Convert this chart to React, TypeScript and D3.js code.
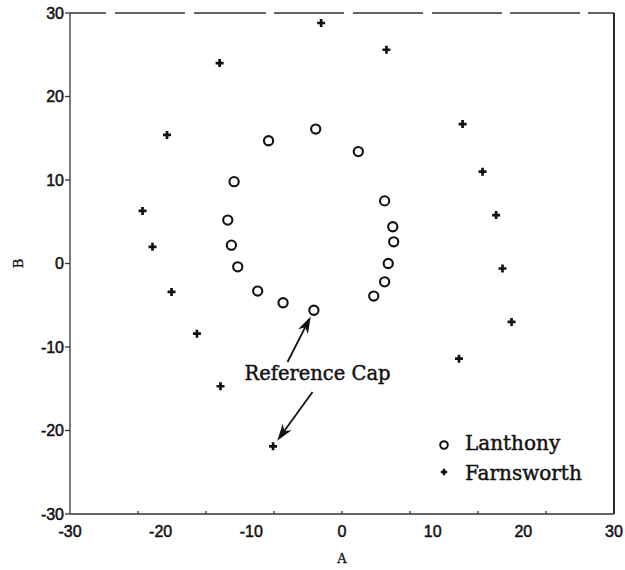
import React from "react";
import * as d3 from "d3";

// Cap chromaticities in the A/B plane (Lanthony D-15 desaturated vs Farnsworth D-15)
const lanthonyA = [-3.1, -9.3, -11.5, -12.2, -12.6, -11.9, -8.1, -2.9, 1.8, 4.7, 5.6, 5.7, 5.1, 4.7, 3.5];
const lanthonyB = [-5.6, -3.3, -0.4, 2.2, 5.2, 9.8, 14.7, 16.1, 13.4, 7.5, 4.4, 2.6, 0.0, -2.2, -3.9];
const lanthonyExtraA = [-6.5];
const lanthonyExtraB = [-4.7];

const farnsworthA = [-7.6, -13.4, -16.0, -18.8, -20.9, -22.0, -19.3, -13.5, -2.3, 4.9, 13.3, 15.5, 17.0, 17.7, 18.7, 12.9];
const farnsworthB = [-21.9, -14.7, -8.4, -3.4, 2.0, 6.3, 15.4, 24.0, 28.8, 25.6, 16.7, 11.0, 5.8, -0.6, -7.0, -11.4];

const xTickLabels = [-30, -20, -10, 0, 10, 20, 30];
const yTickLabels = [-30, -20, -10, 0, 10, 20, 30];
const xMinorTicks = [-22.5, -15, -7.5, 0, 7.5, 15, 22.5];

const legendLabels = ["Lanthony", "Farnsworth"];
const annotationText = "Reference Cap";
const annotationAt = [-2.7, -13.95];

const width = 625;
const height = 570;
const left = 70;
const right = 614;
const top = 13;
const bottom = 514;

const x = d3.scaleLinear().domain([-30, 30]).range([left, right]);
const y = d3.scaleLinear().domain([-30, 30]).range([bottom, top]);

const serif = "'DejaVu Serif', 'Liberation Serif', serif";
const sans = "'Liberation Sans', Arial, sans-serif";

function Plus({ cx, cy, s, w }: { cx: number; cy: number; s: number; w: number }) {
  return (
    <path
      d={`M${cx - s},${cy}H${cx + s}M${cx},${cy - s}V${cy + s}`}
      stroke="#111"
      strokeWidth={w}
      fill="none"
    />
  );
}

function Arrow({ from, to }: { from: [number, number]; to: [number, number] }) {
  const dx = to[0] - from[0];
  const dy = to[1] - from[1];
  const len = Math.hypot(dx, dy);
  const ux = dx / len;
  const uy = dy / len;
  const headL = 17;
  const headW = 5.5;
  const bx = to[0] - ux * headL;
  const by = to[1] - uy * headL;
  const px = -uy;
  const py = ux;
  const head = `M${to[0]},${to[1]}L${bx + px * headW},${by + py * headW}L${bx + ux * 5},${by + uy * 5}L${bx - px * headW},${by - py * headW}Z`;
  return (
    <g>
      <line x1={from[0]} y1={from[1]} x2={bx + ux * 5} y2={by + uy * 5} stroke="#111" strokeWidth={1.8} />
      <path d={head} fill="#111" />
    </g>
  );
}

export default function App() {
  const lanthony = lanthonyA.map((a, i) => [a, lanthonyB[i]]).concat(lanthonyExtraA.map((a, i) => [a, lanthonyExtraB[i]]));
  const farnsworth = farnsworthA.map((a, i) => [a, farnsworthB[i]]);

  // Arrows go from the label to the reference cap of each set
  const lx = x(annotationAt[0]);
  const ly = y(annotationAt[1]);
  const refL: [number, number] = [x(lanthonyA[0]), y(lanthonyB[0])];
  const refF: [number, number] = [x(farnsworthA[0]), y(farnsworthB[0])];
  const tailUp: [number, number] = [lx - 30, ly - 18];
  const tailDown: [number, number] = [lx - 5, ly + 12];
  const tip = (p: [number, number], t: [number, number], gap: number): [number, number] => {
    const d = Math.hypot(t[0] - p[0], t[1] - p[1]);
    return [p[0] + ((t[0] - p[0]) / d) * gap, p[1] + ((t[1] - p[1]) / d) * gap];
  };

  const textInk = { fill: "#111", stroke: "#111", strokeWidth: 0.45 };

  return (
    <svg width={width} height={height} style={{ display: "block", position: "absolute", left: 0, top: 0 }}>
      <rect width={width} height={height} fill="#fff" />

      {/* frame */}
      <line x1={left} y1={top} x2={right} y2={top} stroke="#333" strokeWidth={1.3} strokeDasharray="36 9 70 9 72 8 70 9 70 9 70 8 70 8" />
      <line x1={left} y1={top} x2={left} y2={bottom} stroke="#333" strokeWidth={1.3} />
      <line x1={right} y1={top} x2={right} y2={bottom} stroke="#111" strokeWidth={1.8} />
      <line x1={left} y1={bottom} x2={right} y2={bottom} stroke="#333" strokeWidth={1.3} />

      {/* x ticks */}
      {xMinorTicks.map((t) => (
        <line key={"xm" + t} x1={x(t)} x2={x(t)} y1={bottom} y2={bottom - 3} stroke="#333" strokeWidth={1.3} />
      ))}
      {xTickLabels.map((t) => (
        <text key={"xl" + t} x={x(t)} y={537} textAnchor="middle" fontFamily={sans} fontSize={16} {...textInk} strokeWidth={0.5}>
          {t}
        </text>
      ))}

      {/* y ticks */}
      {yTickLabels.map((t) => (
        <g key={"y" + t}>
          <line x1={left - 5} x2={left} y1={y(t)} y2={y(t)} stroke="#333" strokeWidth={1.3} />
          <text x={left - 6} y={y(t) + 5.5} textAnchor="end" fontFamily={sans} fontSize={16} {...textInk} strokeWidth={0.5}>
            {t}
          </text>
        </g>
      ))}

      {/* axis titles */}
      <text x={x(0)} y={563} textAnchor="middle" fontFamily={serif} fontSize={13} {...textInk} strokeWidth={0.3}>
        A
      </text>
      <text transform={`translate(23,${y(0)}) rotate(-90)`} textAnchor="middle" fontFamily={serif} fontSize={13} {...textInk} strokeWidth={0.3}>
        B
      </text>

      {/* Lanthony caps */}
      {lanthony.map((p, i) => (
        <circle key={"l" + i} cx={x(p[0])} cy={y(p[1])} r={4.6} fill="none" stroke="#111" strokeWidth={2.1} />
      ))}

      {/* Farnsworth caps */}
      {farnsworth.map((p, i) => (
        <Plus key={"f" + i} cx={x(p[0])} cy={y(p[1])} s={4} w={2.7} />
      ))}

      {/* annotation */}
      <text x={lx} y={ly} textAnchor="middle" fontFamily={serif} fontSize={19.5} {...textInk}>
        {annotationText}
      </text>
      <Arrow from={tailUp} to={tip(refL, tailUp, 7)} />
      <Arrow from={tailDown} to={tip(refF, tailDown, 7)} />

      {/* legend */}
      <circle cx={444} cy={445} r={3.8} fill="none" stroke="#111" strokeWidth={2} />
      <text x={465} y={450} fontFamily={serif} fontSize={20} {...textInk}>
        {legendLabels[0]}
      </text>
      <Plus cx={444} cy={472} s={3.2} w={2.5} />
      <text x={465} y={480} fontFamily={serif} fontSize={20} {...textInk}>
        {legendLabels[1]}
      </text>
    </svg>
  );
}
